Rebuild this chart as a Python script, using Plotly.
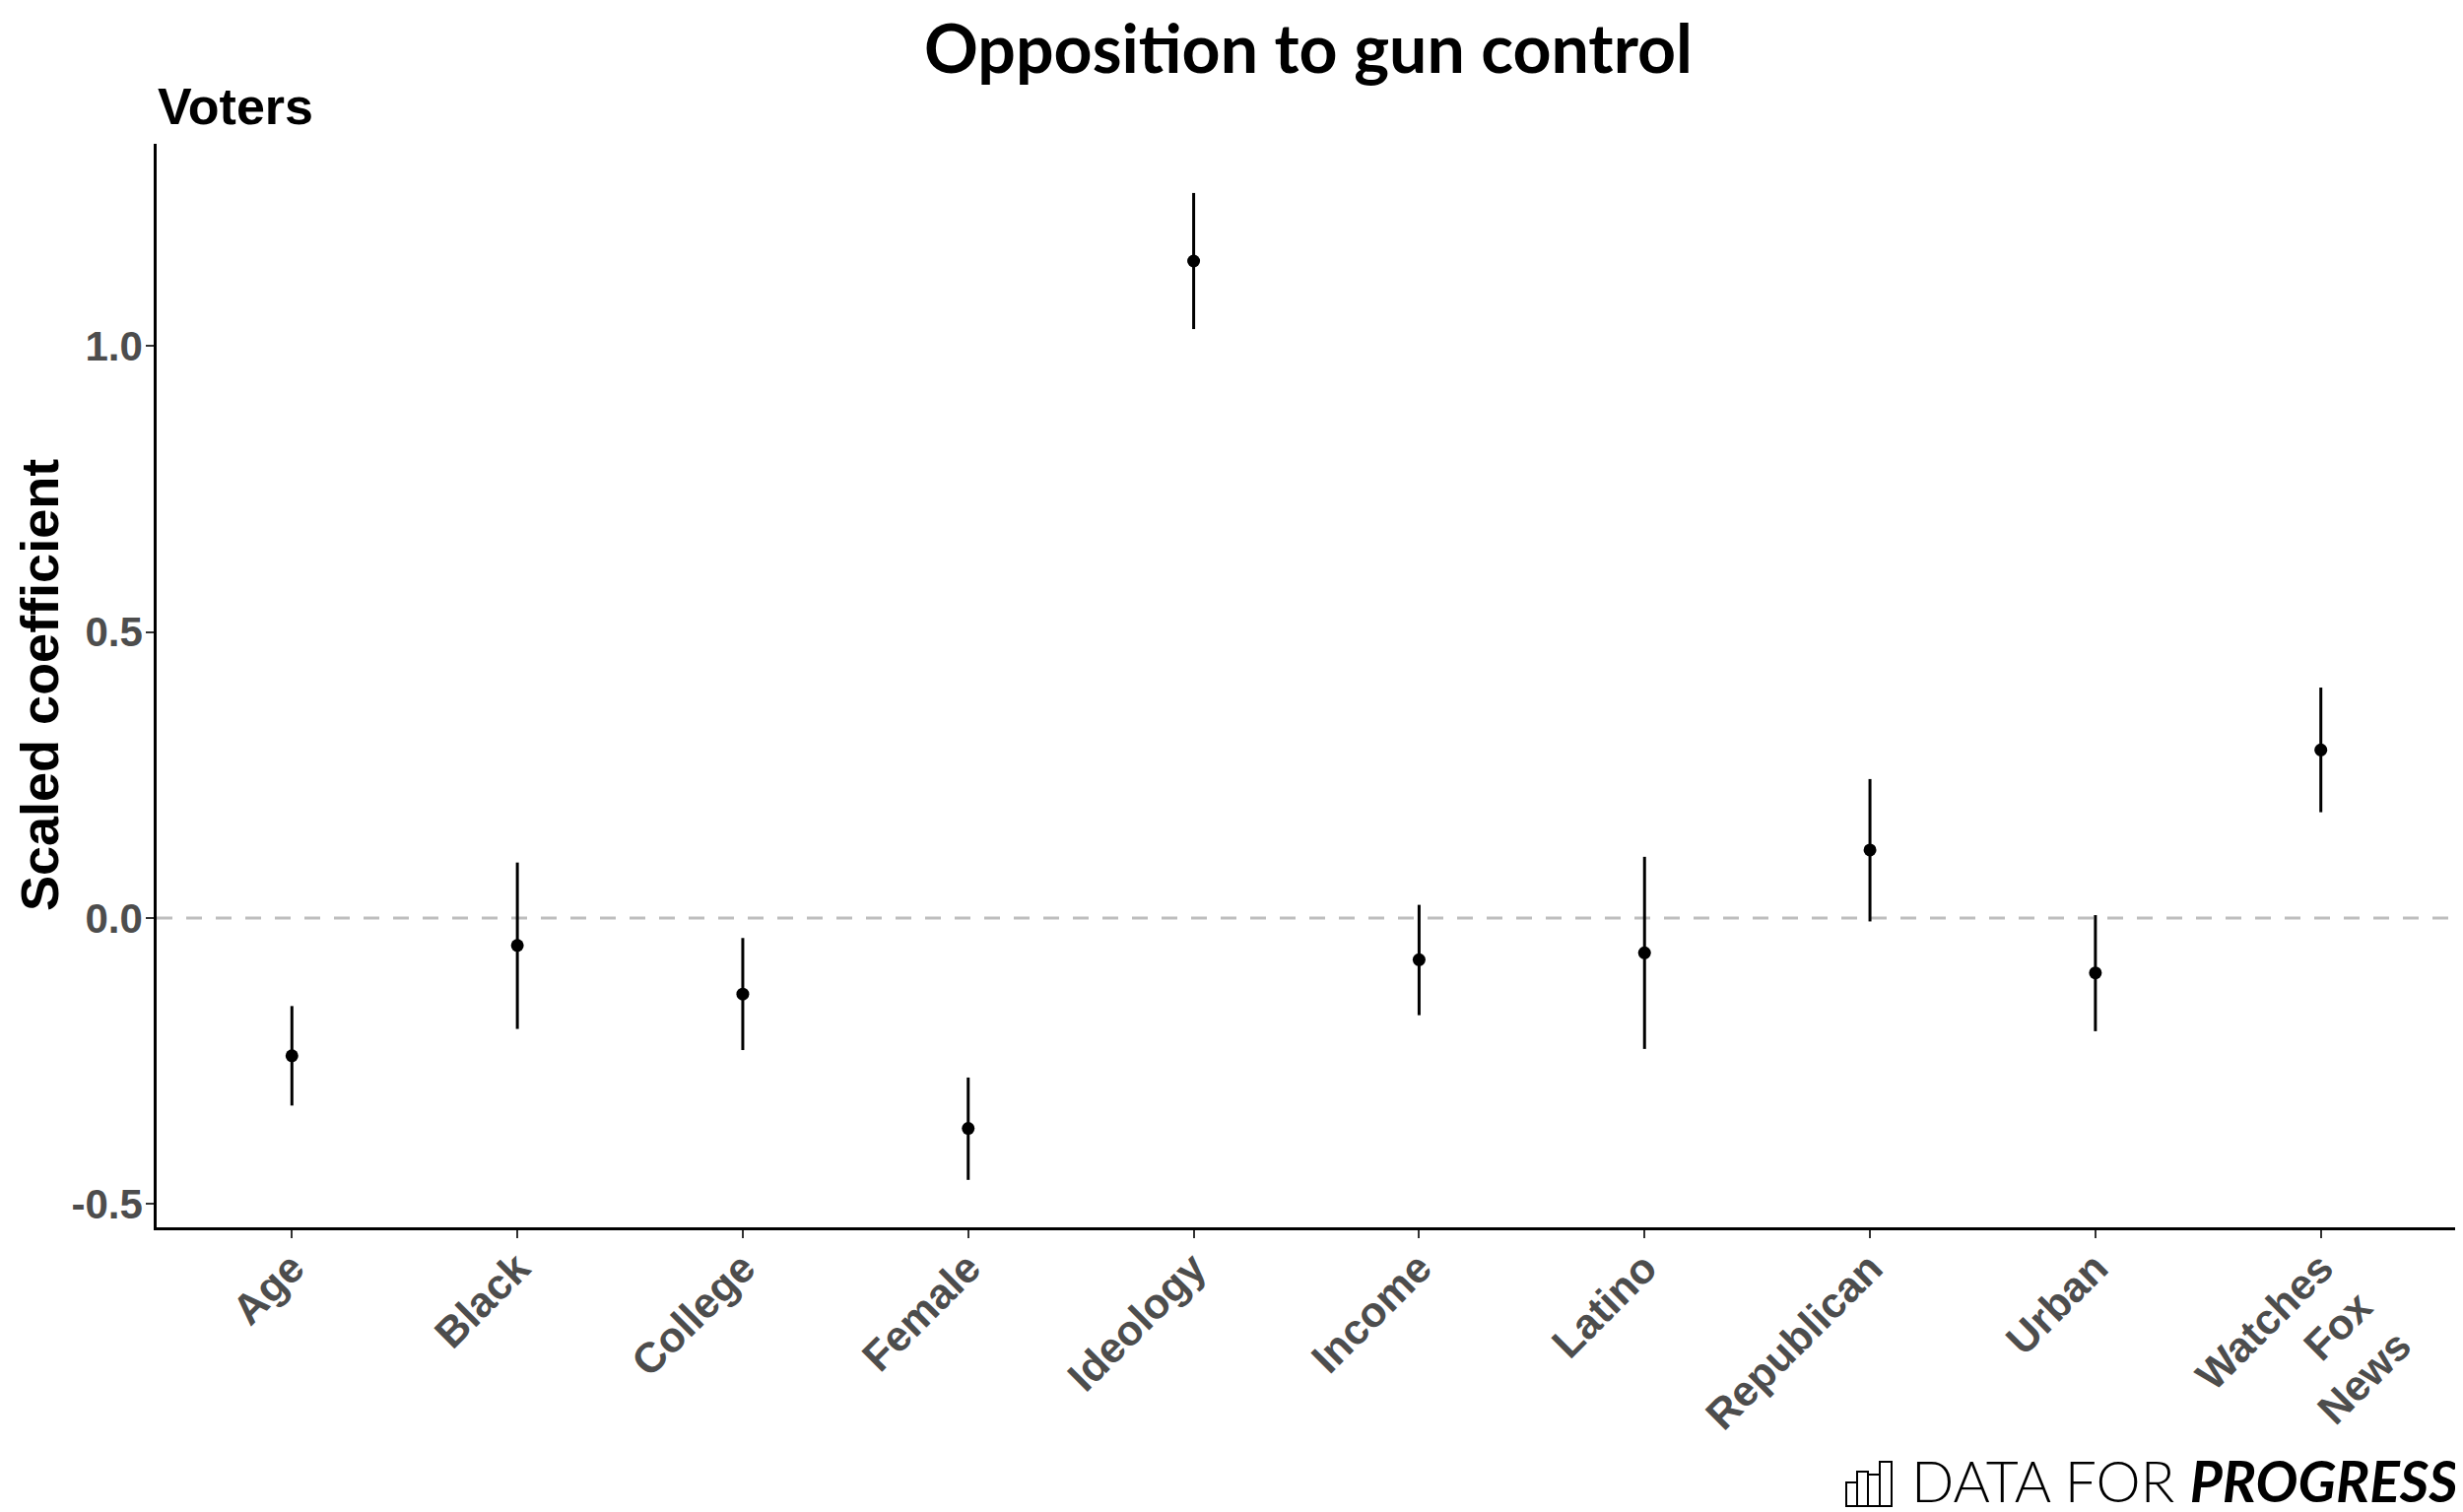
import plotly.graph_objects as go

# ---- data ----
categories = ["Age", "Black", "College", "Female", "Ideology", "Income",
              "Latino", "Republican", "Urban", "Watches Fox News"]
tick_labels = ["Age", "Black", "College", "Female", "Ideology", "Income",
               "Latino", "Republican", "Urban", "Watches<br>Fox<br>News"]
estimate = [-0.241, -0.048, -0.133, -0.368, 1.149, -0.073, -0.061, 0.119, -0.096, 0.294]
upper    = [-0.154, 0.097, -0.035, -0.279, 1.268, 0.023, 0.107, 0.243, 0.005, 0.403]
lower    = [-0.328, -0.194, -0.231, -0.458, 1.030, -0.170, -0.229, -0.006, -0.198, 0.185]
y_ticks = [-0.5, 0.0, 0.5, 1.0]
y_tick_text = ["-0.5", "0.0", "0.5", "1.0"]
reference_value = 0.0

err_plus = [u - e for u, e in zip(upper, estimate)]
err_minus = [e - l for e, l in zip(estimate, lower)]

W, H = 2500, 1535
L, R, T, B = 151, 15, 138, 297
PW, PH = W - L - R, H - T - B


def px_x(px):
    return (px - L) / PW


def px_y(py):
    return (H - B - py) / PH


fig = go.Figure()
fig.add_trace(go.Scatter(
    x=categories, y=estimate, mode="markers",
    marker=dict(color="black", size=13),
    error_y=dict(type="data", symmetric=False, array=err_plus, arrayminus=err_minus,
                 color="black", thickness=3, width=0),
    showlegend=False, cliponaxis=False,
))

fig.add_shape(type="line", xref="paper", x0=0, x1=1, yref="y",
              y0=reference_value, y1=reference_value,
              line=dict(color="#BEBEBE", width=3, dash="16px,14px"), layer="below")

sans = "Liberation Sans, Arial, sans-serif"
x_tick_font = dict(family=sans, size=43, color="#4D4D4D", weight="bold")
y_tick_font = dict(family=sans, size=42, color="#4D4D4D", weight="bold")

fig.update_xaxes(
    type="category", categoryorder="array", categoryarray=categories,
    tickmode="array", tickvals=categories, ticktext=tick_labels,
    range=[-0.6, 9.6], tickangle=-45, tickfont=x_tick_font, ticklabelstandoff=-12,
    showline=True, linecolor="black", linewidth=2.5, mirror=False,
    ticks="outside", ticklen=8, tickwidth=2, tickcolor="#333333",
    showgrid=False, zeroline=False, fixedrange=True,
)
fig.update_yaxes(
    range=[-0.541, 1.354], tickmode="array", tickvals=y_ticks, ticktext=y_tick_text,
    tickfont=y_tick_font, ticklabelstandoff=-5,
    showline=True, linecolor="black", linewidth=2.5,
    ticks="outside", ticklen=8, tickwidth=2, tickcolor="#333333",
    showgrid=False, zeroline=False,
)

annotations = [
    dict(text="Scaled coefficient", textangle=-90, xref="paper", yref="paper",
         x=px_x(32), y=px_y(688), xanchor="center", yanchor="middle", showarrow=False,
         font=dict(family=sans, size=54, color="black", weight="bold")),
    dict(text="Voters", xref="paper", yref="paper", x=px_x(150), y=px_y(100),
         xanchor="left", yanchor="middle", showarrow=False,
         font=dict(family=sans, size=52, color="black", weight="bold")),
    dict(text="DATA FOR <b><i>PROGRESS</i></b>", xref="paper", yref="paper",
         x=px_x(2489), y=px_y(1531), xanchor="right", yanchor="bottom", showarrow=False,
         font=dict(family="Lato", size=57, color="black", weight=300)),
]

# logo icon (decoration): four outlined bars
bars_px = [(1866, 1877, 1497), (1877, 1888, 1486), (1888, 1900, 1489), (1900, 1912, 1476)]
for x0, x1, top in bars_px:
    fig.add_shape(type="rect", xref="paper", yref="paper",
                  x0=px_x(x0), x1=px_x(x1), y0=px_y(1521), y1=px_y(top),
                  line=dict(color="black", width=2), fillcolor="white")

fig.update_layout(
    width=W, height=H,
    margin=dict(l=L, r=R, t=T, b=B),
    paper_bgcolor="white", plot_bgcolor="white",
    title=dict(text="Opposition to gun control", x=px_x(1320), xref="paper", xanchor="center",
               y=1 - 42 / H, yref="container", yanchor="middle", pad=dict(t=0, b=0),
               font=dict(family="Lato", size=68, color="black", weight="bold")),
    annotations=annotations,
)

fig.write_html("out.html")
